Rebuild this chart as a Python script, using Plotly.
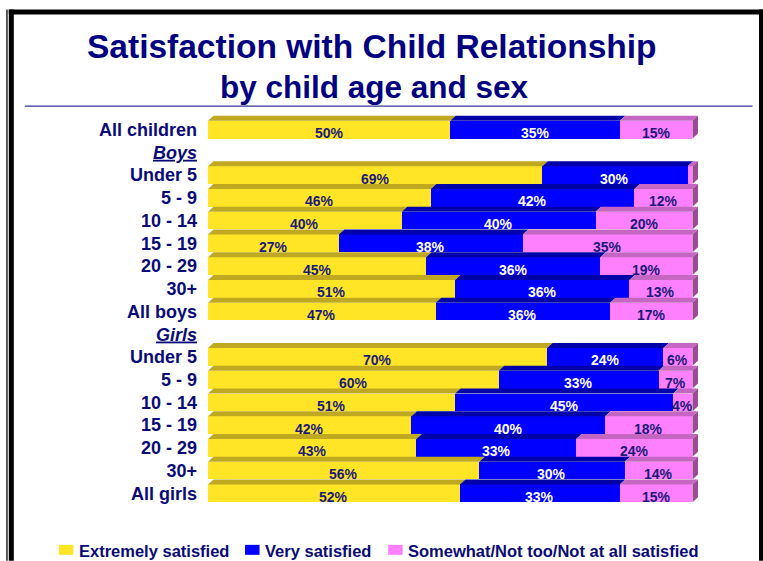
import plotly.graph_objects as go

# ---------------- data ----------------
row_labels = ["All children", "Boys", "Under 5", "5 - 9", "10 - 14", "15 - 19", "20 - 29", "30+", "All boys",
              "Girls", "Under 5", "5 - 9", "10 - 14", "15 - 19", "20 - 29", "30+", "All girls"]
header_rows = ["Boys", "Girls"]
extremely = [50, None, 69, 46, 40, 27, 45, 51, 47, None, 70, 60, 51, 42, 43, 56, 52]
very = [35, None, 30, 42, 40, 38, 36, 36, 36, None, 24, 33, 45, 40, 33, 30, 33]
somewhat = [15, None, 1, 12, 20, 35, 19, 13, 17, None, 6, 7, 4, 18, 24, 14, 15]
series_names = ["Extremely satisfied", "Very satisfied", "Somewhat/Not too/Not at all satisfied"]
title_lines = ["Satisfaction with Child Relationship", "by child age and sex"]

# ---------------- styles ----------------
FRONT = ["#FFE526", "#0000FF", "#FF80FF"]
TOP = ["#C0A820", "#0000A8", "#C466C2"]
SIDE = ["#A08A10", "#00007A", "#9C4A96"]
TXT = ["#1A1A78", "#FFFFFF", "#1A1A78"]
NAVY = "#0A0A78"
FONT = "Liberation Sans, Arial, sans-serif"

W_PX, H_PX = 763, 561
L, T = 208, 107.4
X_MAX = 103
PX_PER_UNIT = 4.84
PW = X_MAX * PX_PER_UNIT
ROW_PX = 22.71
PH = 18 * ROW_PX
R = W_PX - L - PW
B = H_PX - T - PH

BAR_W = 0.78
DY = 0.22
DX = 5.5 / PX_PER_UNIT


def fx(p):
    return (p - L) / PW


def fy(p):
    return (T + PH - p) / PH


rows = list(range(len(row_labels)))
series = [extremely, very, somewhat]

fig = go.Figure()
for name, vals, col in zip(series_names, series, FRONT):
    fig.add_trace(go.Bar(
        y=rows, x=vals, orientation="h", width=BAR_W, name=name,
        marker=dict(color=col, line=dict(width=0)), showlegend=False,
        hoverinfo="skip"))

shapes = []
annotations = []
for r in rows:
    if extremely[r] is None:
        continue
    cum = 0
    yt = r - BAR_W / 2
    yb = r + BAR_W / 2
    last = 0
    for k, vals in enumerate(series):
        v = vals[r]
        x0, x1 = cum, cum + v
        shapes.append(dict(
            type="path", xref="x", yref="y", layer="above",
            path=f"M {x0},{yt} L {x1},{yt} L {x1 + DX},{yt - DY} L {x0 + DX},{yt - DY} Z",
            fillcolor=TOP[k], line=dict(width=0)))
        if v >= 2:
            annotations.append(dict(
                x=(x0 + x1) / 2, y=r, xref="x", yref="y", text=f"<b>{v}%</b>",
                showarrow=False, yshift=-3.5,
                font=dict(family=FONT, size=14, color=TXT[k])))
        cum = x1
        last = k
    shapes.append(dict(
        type="path", xref="x", yref="y", layer="above",
        path=f"M {cum},{yb} L {cum},{yt} L {cum + DX},{yt - DY} L {cum + DX},{yb - DY} Z",
        fillcolor=SIDE[last], line=dict(width=0)))


def rect(x0, y0, x1, y1, color):
    return dict(type="rect", xref="paper", yref="paper",
                x0=fx(x0), x1=fx(x1), y0=fy(y1), y1=fy(y0),
                fillcolor=color, line=dict(width=0), layer="above")


# frame and rule under the title
shapes += [
    rect(9, 10, 763, 15, "black"),
    rect(9, 10, 14, 561, "black"),
    rect(6.5, 10, 7.8, 561, "black"),
    rect(758.5, 10, 763, 561, "black"),
    dict(type="line", xref="paper", yref="paper", x0=fx(25), x1=fx(752), y0=fy(106.5), y1=fy(106.5),
         line=dict(color="#000080", width=1)),
]

# title
annotations.append(dict(xref="paper", yref="paper", x=fx(371.5), y=fy(47), text=f"<b>{title_lines[0]}</b>",
                        showarrow=False, xanchor="center", yanchor="middle",
                        font=dict(family=FONT, size=33.5, color="#000080")))
annotations.append(dict(xref="paper", yref="paper", x=fx(374), y=fy(87), text=f"<b>{title_lines[1]}</b>",
                        showarrow=False, xanchor="center", yanchor="middle",
                        font=dict(family=FONT, size=31.5, color="#000080")))

# legend (manual)
leg_sq_x = [59, 245, 388]
for k, name in enumerate(series_names):
    shapes.append(rect(leg_sq_x[k], 545, leg_sq_x[k] + 14.5, 555, FRONT[k]))
    annotations.append(dict(xref="paper", yref="paper", x=fx(leg_sq_x[k] + 18), y=fy(551),
                            text=f"<b>{name}</b>", showarrow=False, xanchor="left", yanchor="middle",
                            font=dict(family=FONT, size=16.5, color=NAVY)))

ticktext = [f"<b><i><u>{lab}</u></i></b>" if (lab in header_rows) else f"<b>{lab}</b>" for lab in row_labels]

fig.update_layout(
    width=W_PX, height=H_PX, barmode="stack", bargap=0,
    margin=dict(l=L, r=R, t=T, b=B, autoexpand=False),
    paper_bgcolor="white", plot_bgcolor="white",
    xaxis=dict(range=[0, X_MAX], visible=False, fixedrange=True),
    yaxis=dict(range=[17, -1], tickmode="array", tickvals=rows, ticktext=ticktext,
               showgrid=False, zeroline=False, showline=False, ticks="",
               ticklabelstandoff=10, tickfont=dict(family=FONT, size=18, color=NAVY),
               fixedrange=True),
    shapes=shapes, annotations=annotations, showlegend=False,
)

fig.write_html("out.html", config={"displayModeBar": False},
               post_script="document.body.style.margin='0px';document.body.style.overflow='hidden';")
